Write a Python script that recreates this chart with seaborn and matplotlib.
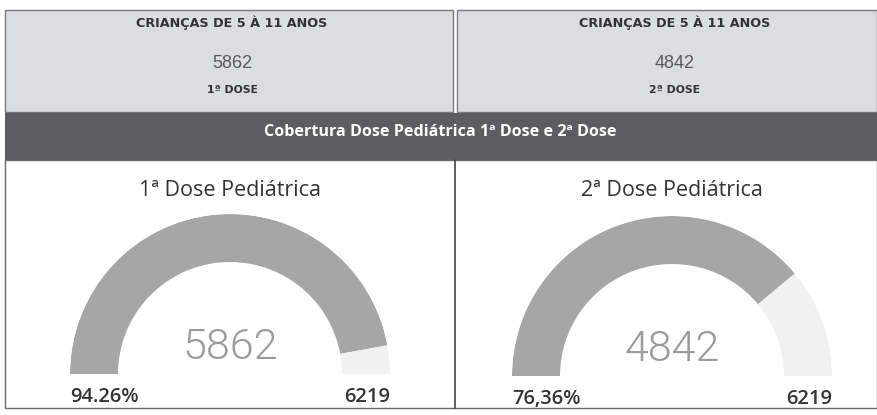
import numpy as np
import seaborn as sns
import matplotlib.pyplot as plt
from matplotlib.patches import Rectangle

# data
card_header = 'CRIANÇAS DE 5 À 11 ANOS'
card_labels = ['1ª DOSE', '2ª DOSE']
doses = [5862, 4842]
gauge_titles = ['1ª Dose Pediátrica', '2ª Dose Pediátrica']
gauge_max = [6219, 6219]
pct_labels = ['94.26%', '76,36%']
band_title = 'Cobertura Dose Pediátrica 1ª Dose e 2ª Dose'

sns.set_theme(style='white')
plt.rcParams['font.family'] = ['Open Sans', 'DejaVu Sans']

W, H = 878, 415
fig = plt.figure(figsize=(W / 100, H / 100), dpi=100)
fig.patch.set_facecolor('white')


def px(x, y):
    # pixel (top-left origin) -> figure fraction
    return x / W, 1 - y / H


def rect(x0, y0, x1, y1, fc, ec='none', lw=0):
    fig.patches.append(Rectangle(px(x0, y1), (x1 - x0) / W, (y1 - y0) / H,
                                 transform=fig.transFigure, facecolor=fc,
                                 edgecolor=ec, linewidth=lw, zorder=-1))


# top cards
card_x = [(5, 453, 232), (457, 877, 675)]
for (x0, x1, cx), lab, v in zip(card_x, card_labels, doses):
    rect(x0, 10, x1, 112, '#dcdde1', ec='#7a7a7a', lw=1)
    fig.text(*px(cx, 23), card_header, ha='center', va='center',
             fontsize=9.2, fontweight='bold', color='#333333', family='DejaVu Sans')
    fig.text(*px(cx, 63), str(v), ha='center', va='center',
             fontsize=13, color='#5a5a5a', family='Liberation Sans')
    fig.text(*px(cx, 90), lab, ha='center', va='center',
             fontsize=7.8, fontweight='bold', color='#333333', family='DejaVu Sans')

# dark band
rect(5, 113, 877, 160, '#5d5d5f')
fig.text(*px(440, 132), band_title, ha='center', va='center',
         fontsize=11.6, fontweight='bold', color='white')

# bottom panels
rect(5, 160, 877, 408, 'white', ec='#6a6a6a', lw=1)
fig.lines.append(plt.Line2D([455 / W, 455 / W], [1 - 160 / H, 1 - 408 / H],
                            transform=fig.transFigure, color='#444444', lw=1.2))

# gauges
R = 160
centers = [(230, 374), (672, 376)]
inner = 0.70
for (cx, cy), title, v, vmax, pct in zip(centers, gauge_titles, doses, gauge_max, pct_labels):
    ax = fig.add_axes([(cx - R) / W, (H - cy - R) / H, 2 * R / W, 2 * R / H],
                      projection='polar')
    ax.set_zorder(2)
    frac = v / vmax
    ax.bar(np.pi - frac * np.pi / 2, 1 - inner, width=frac * np.pi,
           bottom=inner, color='#a6a6a6', edgecolor='none')
    ax.bar((np.pi - frac * np.pi) / 2, 1 - inner, width=np.pi * (1 - frac),
           bottom=inner, color='#f1f1f1', edgecolor='none')
    ax.set_ylim(0, 1)
    ax.set_axis_off()
    ax.patch.set_alpha(0)
    ax.text(0.5, 0.5 + 27 / (2 * R), str(v), transform=ax.transAxes,
            ha='center', va='center', fontsize=31, color='#9a9a9a',
            family='Roboto', fontweight=300)
    ax.text(0.5, 0.5 + (cy - 190) / (2 * R), title, transform=ax.transAxes,
            ha='center', va='center', fontsize=15.5, color='#333333')
    ax.text(0.0, 0.5 - 23 / (2 * R), pct, transform=ax.transAxes,
            ha='left', va='center', fontsize=14.5, color='#333333', fontweight='semibold')
    ax.text(1.0, 0.5 - 23 / (2 * R), str(vmax), transform=ax.transAxes,
            ha='right', va='center', fontsize=14.5, color='#333333', fontweight='semibold')

fig.savefig('out.png', dpi=100)
